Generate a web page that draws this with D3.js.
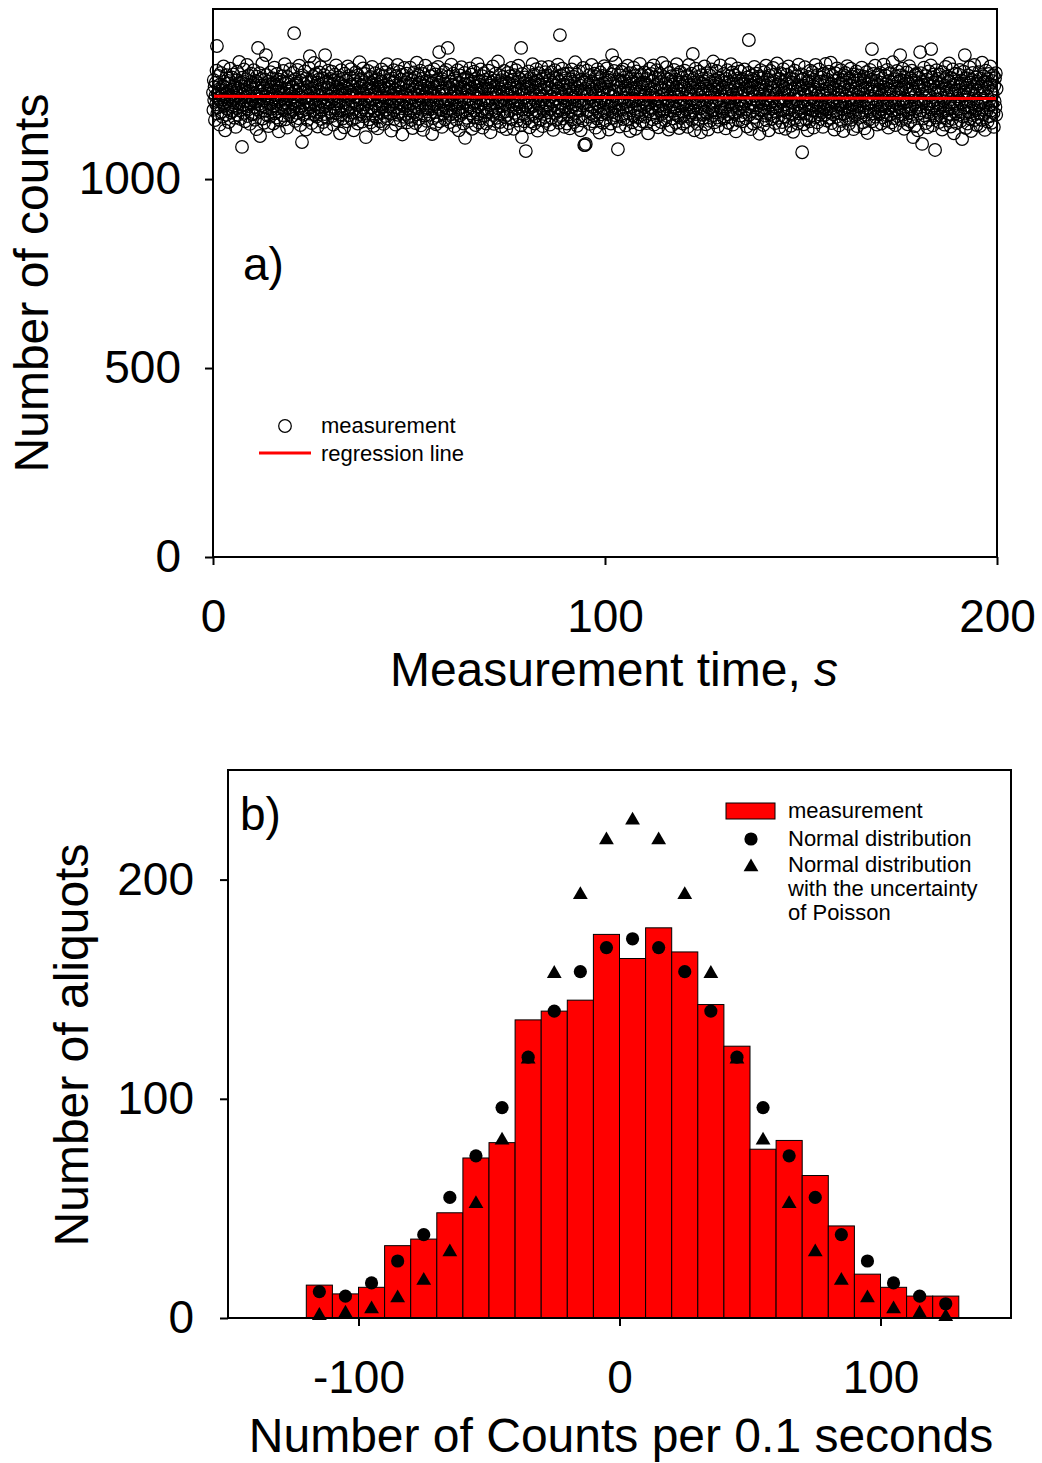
<!DOCTYPE html>
<html>
<head>
<meta charset="utf-8">
<script src="https://cdn.jsdelivr.net/npm/d3@7"></script>
<style>
  body { margin: 0; background: #fff; }
  svg { display: block; }
  text { font-family: "Liberation Sans", Arial, Helvetica, sans-serif; fill: #000; }
</style>
</head>
<body>
<svg id="chart" width="1042" height="1463"></svg>
<script>
// ---------- a) counts recorded every 0.1 s over 200 s ----------
const sampleInterval = 0.1;          // seconds between readings
const meanCount = 1217;              // average counts per reading
// deviation of each reading from meanCount, 50 readings (5 s) per line
const countDeviation = [
  12,-34,45,-8,27,-61,3,38,-19,70,135,-44,9,-27,56,-2,21,-73,33,-11,64,-39,5,17,-52,29,-6,81,-23,41,-15,-88,24,7,-47,58,-31,14,-3,49,-66,36,-20,2,75,-9,-41,19,52,-25,
  -37,8,60,-14,25,-55,31,-2,-79,44,16,-29,67,-48,4,22,-17,93,-35,11,-58,39,-7,28,-132,51,-21,6,-42,73,-12,34,-64,18,-1,47,-30,85,-50,13,-24,57,-9,30,-71,2,40,-16,62,-45,
  20,-8,-46,35,71,-26,9,-60,43,-13,26,-85,54,1,-33,130,-19,37,-5,63,-103,15,-40,48,-22,7,89,-57,31,-10,-68,23,46,-36,3,111,-28,58,-14,-49,32,10,-77,41,-3,19,-52,66,-18,27,
  -31,50,-6,14,-70,38,-24,78,-43,5,29,-15,-54,61,-2,33,-38,17,-91,46,-11,24,-62,8,55,-27,-4,42,-48,69,-20,12,-35,87,-7,-59,36,-16,21,-81,53,-30,4,39,-45,15,-9,74,-39,26,
  9,-51,28,-17,64,-34,2,169,-25,47,-63,18,-8,37,-42,72,-13,31,-56,6,83,-29,20,-74,44,-1,-38,-119,57,-22,11,-47,35,-5,68,-33,16,-86,49,-12,26,-60,3,40,-19,77,-44,108,-28,13,
  -16,42,-69,24,-3,55,-36,10,90,-47,30,-21,61,-8,-52,17,38,-78,4,46,-27,65,-40,13,-11,79,-58,22,-33,50,-2,-66,34,-19,58,-45,111,-24,7,-84,41,-6,25,-55,70,-14,36,-31,2,48,
  -39,21,-12,67,-50,8,33,-73,45,-4,-28,59,16,-43,84,-18,27,-62,1,39,-35,52,-9,14,-96,36,-23,71,-46,19,5,-57,48,-15,28,-80,62,-30,10,-7,44,-64,23,-37,81,-20,3,56,-48,15,
  32,-26,74,-41,6,-60,29,-13,50,-88,18,43,-32,2,65,-54,11,-20,37,-70,57,-7,24,-45,92,-16,-38,30,-3,48,-65,15,-27,76,-51,9,40,-19,61,-8,-106,34,-44,21,-11,69,-36,4,-59,27,
  -14,53,-67,18,38,-29,80,-5,-48,25,-76,44,12,-37,63,-22,7,-55,35,-1,-83,47,20,-31,58,-11,-64,28,41,-18,73,-42,3,-25,54,-71,16,31,-9,-50,66,-33,22,-2,87,-57,10,-24,45,-40,
  26,-6,60,-44,13,-89,37,-19,49,5,-35,71,-58,20,-12,42,-73,9,56,-28,-3,85,-47,31,-15,67,-39,1,24,-62,46,-21,13,-99,59,-8,34,-52,77,-26,6,-45,39,-13,62,-67,18,-30,50,-4,
  -53,29,-17,78,-36,11,-61,44,-2,-82,33,18,-41,65,-24,7,52,-69,27,-10,91,-46,14,-30,57,-58,4,38,-20,70,-75,23,-7,48,-34,16,-87,61,-15,31,-49,2,83,-27,43,-63,10,-38,25,-5,
  40,-22,68,-47,15,-8,55,-31,21,-98,36,-56,9,74,-19,27,-40,3,60,-72,45,-13,-50,32,80,-26,12,119,-64,39,-4,-35,58,17,-79,47,-11,23,-44,66,-21,6,-59,35,-16,72,-37,13,-6,130,
  -30,54,-9,26,-66,41,-45,19,86,-17,-52,33,-3,62,-39,8,-77,50,-24,14,44,-60,29,-11,71,-33,2,-88,38,-18,57,-48,21,-6,79,-42,11,-27,47,-70,25,-14,64,-108,35,-1,52,-55,17,-36,
  47,-20,15,-63,36,-7,76,-43,24,-28,59,-84,10,41,-16,-54,67,-35,3,28,-74,49,-12,18,-46,88,-25,7,-67,42,-2,32,-57,73,-19,12,-38,55,-81,26,-9,63,-49,20,-31,46,-3,-70,38,-14,
  -41,23,-5,70,-60,30,-22,51,-93,16,39,-34,8,-13,81,-48,27,-71,44,-1,-37,62,-18,11,-55,35,-29,94,-44,6,-15,58,-66,21,-8,45,-78,33,-24,14,53,-40,-4,69,-52,29,-19,40,-85,9,
  18,-47,64,-26,4,-69,37,-11,55,-36,22,77,-58,13,-20,46,-3,-84,31,58,-42,9,-16,71,-30,25,-62,40,-7,83,-51,19,-25,48,-12,-75,130,20,-106,61,-33,7,-46,36,-64,15,52,-21,-143,28,
  -9,42,-56,24,-32,68,-14,35,-80,10,50,-27,-65,31,-2,87,-45,17,-23,59,-70,38,-10,26,-50,74,-36,5,-89,44,-18,63,-41,12,33,-61,20,-6,79,-29,48,-77,3,-38,56,-15,27,-53,66,-24,
  34,-63,11,-19,57,-40,80,-8,26,-73,45,-31,2,66,-55,19,-12,38,-87,52,-21,7,71,-44,30,-4,-60,49,-27,15,86,-37,23,-68,41,164,-16,58,-48,9,-34,75,-2,-57,33,-25,61,-79,18,-11,
  50,-28,13,-70,39,-6,62,-46,21,-15,-83,47,29,-38,5,73,-59,16,-24,54,-1,-66,35,-19,92,-42,11,-31,60,-76,24,-9,43,-53,68,-13,-35,30,-88,17,46,-22,3,-62,77,-17,40,-127,8,-127,
  22,-124,45,-14,70,-37,6,-52,33,-20,58,-71,14,-3,41,-44,85,-26,19,-64,36,-8,-49,62,-30,10,-81,53,-17,28,-57,74,-39,4,47,-23,-94,31,65,-12,-46,20,-2,56,-68,37,-29,12,82,-41,
  -6,39,-61,27,-18,76,-45,13,-33,51,-86,20,44,-24,8,-70,60,-11,111,-40,35,-55,2,69,-27,16,-48,91,-15,30,-63,47,-5,-138,42,-36,24,-78,57,-20,11,67,-50,-9,38,-32,73,-58,18,-1,
  44,-16,28,-75,55,-34,9,-58,83,-22,17,-43,63,-7,-90,36,-26,50,-12,22,-67,41,-3,78,-49,14,-30,56,-84,25,-10,68,-40,7,-53,46,-19,32,-72,88,-35,15,-6,60,-47,26,-64,39,-13,3,
  -27,65,-52,12,37,-8,-69,48,-21,30,-96,57,-38,4,75,-14,21,-46,61,-31,9,-59,43,-2,84,-73,27,-17,52,-42,16,-6,71,-54,35,-25,-80,49,1,-36,62,-11,24,-66,40,-45,90,-20,7,-33,
  53,-39,19,-4,-62,36,-24,79,-50,10,-15,47,-86,28,-9,64,-35,2,41,-77,55,-19,33,-57,13,-28,72,-43,6,-11,46,-68,24,87,-31,-1,59,-49,18,-82,38,-23,66,-14,-55,29,9,-39,51,-70,
  -21,31,-48,70,-12,24,-65,43,-33,8,56,-79,17,-3,85,-52,34,-26,12,-41,62,-7,-60,25,114,-36,48,-16,-88,39,-22,75,-45,15,-5,53,-71,30,-14,67,-58,4,40,-30,20,-93,58,-9,36,-47,
  15,-55,42,-20,81,-38,5,-72,29,-10,63,-44,22,-86,47,-1,-29,58,-63,18,37,-15,73,-50,11,-34,94,-24,31,-67,8,45,-41,20,-13,69,-54,27,-78,50,-6,33,-61,16,84,-27,-18,44,-37,3,
  -42,26,-9,61,-57,38,-30,14,-83,48,2,-20,71,-46,23,-68,40,-5,55,-34,-12,87,-52,19,-26,65,-73,7,36,-16,-45,57,-2,28,-91,43,-23,10,76,-39,21,-62,50,-8,-30,68,-49,13,-18,34,
  9,-64,47,-25,18,-40,73,-12,35,-56,27,-3,-78,52,-32,11,64,151,-47,24,-17,41,-85,30,-6,58,-37,15,-70,45,-21,80,-53,3,39,-28,62,-9,-65,22,-43,54,-14,33,-97,16,-4,71,-36,27,
  -33,50,-18,7,-74,39,-27,66,-49,19,-8,83,-61,30,-15,46,-39,4,-88,57,-22,13,69,-45,36,-11,-58,25,-30,77,-3,-51,42,18,-69,60,-26,9,-40,89,-17,32,-55,21,-7,-80,48,-34,63,-13,
  40,-2,-66,28,-35,74,-20,11,-52,44,-84,23,-10,59,-41,35,-28,6,81,-63,17,-33,50,-5,-76,38,-14,64,-47,21,-92,47,-24,3,70,-57,26,-38,14,-6,55,-70,32,-19,86,-43,8,-28,45,-60,
  23,-37,60,-146,31,-13,48,-72,15,-25,79,-44,6,-59,37,-8,25,-88,53,-19,42,-31,-64,18,70,-50,12,-4,-35,66,-23,29,-81,46,-11,20,-53,85,-39,5,-16,58,-67,34,-29,10,73,-46,41,-21,
  -58,33,-7,52,-40,17,-79,62,-26,4,-48,41,-14,88,-33,22,-62,10,46,-20,-3,67,-55,28,-42,14,91,-30,-69,35,-9,56,-46,24,-17,-86,43,-1,63,-36,19,-52,76,-24,7,-41,50,-75,27,-12,
  36,-19,71,-63,12,-31,45,-5,-90,58,-44,26,-13,64,-56,3,39,-27,82,-48,20,-10,-71,49,-35,31,-2,75,-60,15,-22,53,-39,9,-85,60,-16,37,-50,22,-6,68,-34,-77,44,-25,13,57,-42,1,
  -26,47,-53,19,-11,78,-41,30,-67,8,54,-22,-83,40,-7,25,-47,66,-30,14,-95,51,-18,35,-59,2,72,-37,21,-12,46,127,-64,28,-4,61,-44,16,-28,83,-52,10,-21,43,-73,32,-8,59,-38,20,
  -45,15,64,-32,38,-70,5,-19,49,-54,27,86,-40,11,-25,57,-62,34,-3,-48,72,-15,22,-81,43,-29,8,63,-46,17,-9,-67,39,-23,92,-36,12,-56,47,-14,28,-74,55,-1,-33,69,-50,24,-18,41,
  12,-38,57,111,-27,44,-61,20,-9,75,-47,31,-16,-84,53,-4,36,-58,26,-36,65,-12,-72,40,7,-43,82,-25,18,-64,49,-31,-2,70,-52,23,-106,45,-19,14,-77,58,-38,6,61,-29,-11,37,-88,30,
  -20,51,-44,27,119,-35,63,-8,40,-124,16,-57,33,-14,78,-49,22,-3,-69,56,-26,11,46,-80,35,-41,68,-17,4,-60,29,84,127,-33,52,-12,-75,38,-22,60,-48,18,-140,42,-6,-54,71,-30,13,-39,
  48,-16,25,-66,59,-28,9,-51,37,-2,-86,66,-40,21,-11,45,-73,30,-24,80,-55,14,-35,54,3,-62,41,-19,89,-45,26,-7,-78,50,-30,17,-58,73,-13,33,-96,47,-21,8,62,-43,19,-69,36,-4,
  -31,60,-47,18,-9,72,-38,29,-63,44,-15,-111,35,-52,6,67,-27,13,111,-44,24,-82,50,-6,31,-70,57,-23,10,-41,79,-57,38,-12,-90,46,-29,20,64,-48,3,-18,85,-61,27,-35,52,-8,-74,41,
  17,-53,36,-22,66,-43,8,-76,49,-14,28,-60,91,-33,12,-5,55,-46,23,-87,40,-18,70,-39,2,47,-65,25,-28,61,-10,-51,34,81,-36,15,-68,43,-20,7,58,-42,-79,30,-11,50,-26,63,-47,22
];
// fitted regression line: counts at the start and end of the run
const regressionTimes = [0, 200];
const regressionCounts = [1219, 1213];
const timeTicks = [0, 100, 200];
const countTicks = [0, 500, 1000];

// ---------- b) distribution of deviations, 10-count bins ----------
const binStarts = [-120,-110,-100,-90,-80,-70,-60,-50,-40,-30,-20,-10,0,10,20,30,40,50,60,70,80,90,100,110,120];
const binWidth = 10;
const measuredAliquots = [15,11,14,33,36,48,73,80,136,140,145,175,164,178,167,143,124,77,81,65,42,20,14,10,10];
const normalAliquots   = [12,10,16,26,38,55,74,96,119,140,158,169,173,169,158,140,119,96,74,55,38,26,16,10,6.5];
const poissonAliquots  = [2,3,5,10,18,31,53,82,119,158,194,219,228,219,194,158,119,82,53,31,18,10,5,3,1.5];
const deviationTicks = [-100, 0, 100];
const aliquotTicks = [0, 100, 200];

const svg = d3.select("#chart");
const FONT_TICK = 46, FONT_TITLE = 48, FONT_LEGEND = 22;

function styleAxis(g) {
  g.select(".domain").remove();
  g.selectAll(".tick line").attr("stroke", "#000").attr("stroke-width", 2);
  g.selectAll(".tick text").attr("font-size", FONT_TICK)
    .attr("font-family", '"Liberation Sans", Arial, sans-serif').attr("fill", "#000");
}

// ===================== panel a =====================
const xA = d3.scaleLinear().domain([0, 200]).range([213, 997]);
const yA = d3.scaleLinear().domain([0, 1450]).range([557, 9]);

const gA = svg.append("g");

gA.append("g").attr("transform", `translate(0,${yA(0)})`)
  .call(d3.axisBottom(xA).tickValues(timeTicks).tickFormat(d3.format("d"))
    .tickSize(8).tickSizeOuter(0).tickPadding(34))
  .call(styleAxis);
gA.append("g").attr("transform", `translate(${xA(0)},0)`)
  .call(d3.axisLeft(yA).tickValues(countTicks).tickFormat(d3.format("d"))
    .tickSize(8).tickSizeOuter(0).tickPadding(24))
  .call(styleAxis);

// measurements
const readings = countDeviation.map((d, i) => ({ t: i * sampleInterval, c: meanCount + d }));
gA.append("g").selectAll("circle").data(readings).join("circle")
  .attr("cx", d => xA(d.t)).attr("cy", d => yA(d.c)).attr("r", 6.3)
  .attr("fill", "none").attr("stroke", "#000").attr("stroke-width", 1.25);

// regression line
gA.append("line")
  .attr("x1", xA(regressionTimes[0])).attr("y1", yA(regressionCounts[0]))
  .attr("x2", xA(regressionTimes[1])).attr("y2", yA(regressionCounts[1]))
  .attr("stroke", "#ff0000").attr("stroke-width", 3);

// frame
gA.append("rect").attr("x", xA(0)).attr("y", yA(1450))
  .attr("width", xA(200) - xA(0)).attr("height", yA(0) - yA(1450))
  .attr("fill", "none").attr("stroke", "#000").attr("stroke-width", 2);

// panel letter
gA.append("text").attr("x", 243).attr("y", 280).attr("font-size", FONT_TICK).text("a)");

// legend
gA.append("circle").attr("cx", 285).attr("cy", 426).attr("r", 6.3)
  .attr("fill", "none").attr("stroke", "#000").attr("stroke-width", 1.25);
gA.append("text").attr("x", 321).attr("y", 433).attr("font-size", FONT_LEGEND).text("measurement");
gA.append("line").attr("x1", 259).attr("x2", 311).attr("y1", 453).attr("y2", 453)
  .attr("stroke", "#ff0000").attr("stroke-width", 3);
gA.append("text").attr("x", 321).attr("y", 461).attr("font-size", FONT_LEGEND).text("regression line");

// axis titles
const xTitleA = gA.append("text").attr("x", 614).attr("y", 686)
  .attr("text-anchor", "middle").attr("font-size", FONT_TITLE);
xTitleA.append("tspan").text("Measurement time, ");
xTitleA.append("tspan").attr("font-style", "italic").text("s");
gA.append("text").attr("transform", "translate(48,283) rotate(-90)")
  .attr("text-anchor", "middle").attr("font-size", FONT_TITLE).text("Number of counts");

// ===================== panel b =====================
const xB = d3.scaleLinear().domain([-150, 150]).range([228, 1011]);
const yB = d3.scaleLinear().domain([0, 250]).range([1318, 770]);

const gB = svg.append("g");

gB.append("g").attr("transform", `translate(0,${yB(0)})`)
  .call(d3.axisBottom(xB).tickValues(deviationTicks).tickFormat(d3.format("d"))
    .tickSize(8).tickSizeOuter(0).tickPadding(34))
  .call(styleAxis);
gB.append("g").attr("transform", `translate(${xB(-150)},0)`)
  .call(d3.axisLeft(yB).tickValues(aliquotTicks).tickFormat(d3.format("d"))
    .tickSize(8).tickSizeOuter(0).tickPadding(26))
  .call(styleAxis);
// plain hyphen-minus for negative labels
gB.selectAll(".tick text").text(function () { return this.textContent.replace("\u2212", "-"); });

const bins = binStarts.map((s, i) => ({
  s, mid: s + binWidth / 2,
  measured: measuredAliquots[i], normal: normalAliquots[i], poisson: poissonAliquots[i]
}));

gB.append("g").selectAll("rect").data(bins).join("rect")
  .attr("x", d => xB(d.s)).attr("width", d => xB(d.s + binWidth) - xB(d.s))
  .attr("y", d => yB(d.measured)).attr("height", d => yB(0) - yB(d.measured))
  .attr("fill", "#ff0000").attr("stroke", "#000").attr("stroke-width", 1);

// triangle symbol, nudged so its bounding box (not its centroid) sits on the value
const tri = d3.symbol().type(d3.symbolTriangle).size(95);
const TRI_NUDGE = 2;
gB.append("g").selectAll("path").data(bins).join("path")
  .attr("d", tri).attr("transform", d => `translate(${xB(d.mid)},${yB(d.poisson) + TRI_NUDGE})`)
  .attr("fill", "#000");
gB.append("g").selectAll("circle").data(bins).join("circle")
  .attr("cx", d => xB(d.mid)).attr("cy", d => yB(d.normal)).attr("r", 6.6)
  .attr("fill", "#000");

// frame
gB.append("rect").attr("x", xB(-150)).attr("y", yB(250))
  .attr("width", xB(150) - xB(-150)).attr("height", yB(0) - yB(250))
  .attr("fill", "none").attr("stroke", "#000").attr("stroke-width", 2);

gB.append("text").attr("x", 240).attr("y", 830).attr("font-size", FONT_TICK).text("b)");

// legend
gB.append("rect").attr("x", 726).attr("y", 803).attr("width", 49).attr("height", 16)
  .attr("fill", "#ff0000").attr("stroke", "#000").attr("stroke-width", 1);
gB.append("text").attr("x", 788).attr("y", 818).attr("font-size", FONT_LEGEND).text("measurement");
gB.append("circle").attr("cx", 751).attr("cy", 839).attr("r", 6.6).attr("fill", "#000");
gB.append("text").attr("x", 788).attr("y", 846).attr("font-size", FONT_LEGEND).text("Normal distribution");
gB.append("path").attr("d", tri).attr("transform", `translate(751,${865 + TRI_NUDGE})`).attr("fill", "#000");
[["Normal distribution", 872], ["with the uncertainty", 896], ["of Poisson", 920]].forEach(([t, y]) =>
  gB.append("text").attr("x", 788).attr("y", y).attr("font-size", FONT_LEGEND).text(t));

// axis titles
gB.append("text").attr("x", 621).attr("y", 1452).attr("text-anchor", "middle")
  .attr("font-size", FONT_TITLE).text("Number of Counts per 0.1 seconds");
gB.append("text").attr("transform", "translate(88,1045) rotate(-90)")
  .attr("text-anchor", "middle").attr("font-size", FONT_TITLE).text("Number of aliquots");
</script>
</body>
</html>
